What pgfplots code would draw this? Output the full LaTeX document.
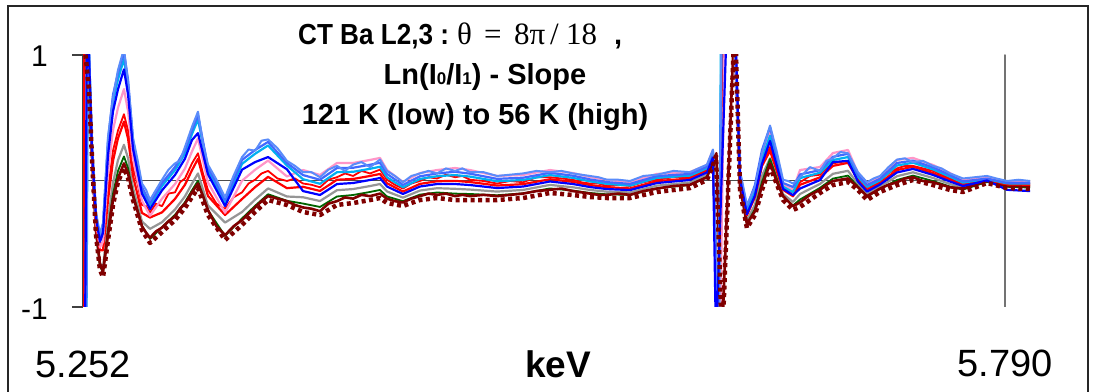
\documentclass[border=0pt]{standalone}
\usepackage{pgfplots}
\pgfplotsset{compat=1.18}
\usepackage{fontspec}
\setmainfont{Liberation Sans}
\newfontfamily\serifgreek{Liberation Serif}
\definecolor{cC}{RGB}{65,105,255}
\definecolor{cC2}{RGB}{90,140,250}
\definecolor{cS}{RGB}{0,176,240}
\definecolor{cP}{RGB}{255,150,200}
\definecolor{cB}{RGB}{0,0,255}
\definecolor{cR}{RGB}{255,0,0}
\definecolor{cG}{RGB}{150,150,150}
\definecolor{cDG}{RGB}{0,100,0}
\definecolor{cD}{RGB}{128,0,0}
\begin{document}
\begin{tikzpicture}
\useasboundingbox (0pt,0pt) rectangle (1095pt,391pt);
\fill[white] (0pt,0pt) rectangle (1095pt,391pt);
\draw[line width=1.5pt, black!85] (8pt,-5pt) rectangle (1088pt,385pt);
\begin{axis}[
  at={(83pt,84pt)}, anchor=south west,
  scale only axis, width=947pt, height=252pt,
  xmin=5.252, xmax=5.8046, ymin=-1, ymax=1,
  axis x line=none, axis y line=left,
  axis line style={-, line width=1.2pt, black!75},
  ytick={-1,1}, yticklabels={}, xtick=\empty,
  tick align=outside, major tick length=11pt,
  major tick style={line width=1.2pt, black!75},
  every axis plot/.append style={line join=round, line cap=round},
]
\addplot[black!70, line width=1pt] coordinates {(5.252,0) (5.8046,0)};
\addplot[black!55, line width=1.5pt] coordinates {(5.790,-1) (5.790,1)};
% gray
\addplot[cG, line width=2.2pt] coordinates {
(5.2523,-1.3)(5.2529,1.3)(5.2549,1.3)
(5.2555,0.786)(5.2573,0.183)(5.2596,-0.397)(5.2619,-0.654)(5.2637,-0.679)(5.2666,-0.309)(5.2695,-0.015)(5.2724,0.165)(5.2759,0.287)(5.2783,0.180)(5.2812,-0.056)(5.2864,-0.321)(5.2911,-0.38)(5.2981,-0.327)(5.3057,-0.226)(5.3115,-0.122)(5.3156,-0.021)(5.3191,0.060)(5.3249,-0.194)(5.3349,-0.33)(5.3448,-0.246)(5.3524,-0.148)(5.3600,-0.059)(5.3710,-0.123)
(5.3804,-0.129)(5.3903,-0.159)(5.4002,-0.073)(5.4096,-0.064)(5.4195,-0.040)(5.4253,-0.024)(5.4294,-0.083)(5.4387,-0.132)(5.4486,-0.076)(5.4586,-0.057)(5.4691,-0.062)(5.4778,-0.068)(5.4936,-0.084)(5.5088,-0.071)(5.5245,-0.031)(5.5379,-0.050)(5.5478,-0.071)(5.5578,-0.085)(5.5712,-0.091)(5.5869,-0.037)(5.6062,-0.012)(5.6161,0.050)(5.6196,0.169)
(5.6225,-1.3)(5.6254,1.3)(5.6318,1.3)
(5.6354,-0.024)(5.6394,-0.315)(5.6441,-0.187)(5.6482,0.040)(5.6529,0.18)(5.6605,-0.104)(5.6663,-0.166)(5.6704,-0.103)(5.6821,-0.023)(5.6896,0.057)(5.6984,0.081)(5.7042,-0.024)(5.7095,-0.104)(5.7171,-0.045)(5.7270,0.038)(5.7363,0.069)(5.7480,0.024)(5.7579,-0.024)(5.7655,-0.054)(5.7795,-0.002)(5.7912,-0.039)(5.8046,-0.044)};
% dark green
\addplot[cDG, line width=1.8pt] coordinates {
(5.2523,-1.3)(5.2529,1.3)(5.2549,1.3)
(5.2555,0.754)(5.2573,0.175)(5.2596,-0.413)(5.2619,-0.680)(5.2637,-0.721)(5.2666,-0.389)(5.2695,-0.103)(5.2724,0.079)(5.2759,0.195)(5.2783,0.102)(5.2812,-0.103)(5.2864,-0.355)(5.2911,-0.460)(5.2981,-0.366)(5.3057,-0.268)(5.3115,-0.168)(5.3156,-0.074)(5.3191,0.002)(5.3249,-0.232)(5.3349,-0.436)(5.3448,-0.297)(5.3524,-0.197)(5.3600,-0.105)(5.3710,-0.157)
(5.3804,-0.179)(5.3903,-0.206)(5.4002,-0.123)(5.4096,-0.111)(5.4195,-0.087)(5.4253,-0.071)(5.4294,-0.123)(5.4387,-0.160)(5.4486,-0.108)(5.4586,-0.091)(5.4691,-0.100)(5.4778,-0.103)(5.4936,-0.113)(5.5088,-0.098)(5.5245,-0.059)(5.5379,-0.076)(5.5478,-0.095)(5.5578,-0.106)(5.5712,-0.110)(5.5869,-0.058)(5.6062,-0.031)(5.6161,0.032)(5.6196,0.151)
(5.6225,-1.3)(5.6254,1.3)(5.6318,1.3)
(5.6354,-0.044)(5.6394,-0.340)(5.6441,-0.222)(5.6482,-0.008)(5.6529,0.175)(5.6605,-0.124)(5.6663,-0.194)(5.6704,-0.147)(5.6821,-0.054)(5.6896,0.019)(5.6984,0.043)(5.7042,-0.044)(5.7095,-0.124)(5.7171,-0.063)(5.7270,0.008)(5.7363,0.043)(5.7480,0.000)(5.7579,-0.044)(5.7655,-0.068)(5.7795,-0.008)(5.7912,-0.046)(5.8046,-0.052)};
% dark red solid
\addplot[cD, line width=2.6pt] coordinates {
(5.2527,1.3)(5.2535,0.95)
(5.2555,0.70)(5.2573,0.18)(5.2596,-0.40)(5.2619,-0.66)(5.2637,-0.72)(5.2666,-0.43)(5.2695,-0.15)(5.2724,0.02)(5.2759,0.14)(5.2783,0.06)(5.2812,-0.12)(5.2838,-0.24)(5.2864,-0.36)(5.2888,-0.41)(5.2911,-0.45)(5.2946,-0.40)(5.2981,-0.37)(5.3019,-0.32)(5.3057,-0.28)(5.3086,-0.22)(5.3115,-0.18)(5.3156,-0.09)(5.3191,-0.02)(5.3220,-0.12)(5.3249,-0.23)(5.3299,-0.36)(5.3349,-0.43)(5.3398,-0.36)(5.3448,-0.31)(5.3486,-0.26)(5.3524,-0.21)(5.3562,-0.16)(5.3600,-0.12)(5.3655,-0.14)(5.3710,-0.16)(5.3757,-0.19)
(5.3804,-0.21)(5.3853,-0.22)(5.3903,-0.24)(5.3952,-0.18)(5.4002,-0.16)(5.4049,-0.13)(5.4096,-0.14)(5.4145,-0.11)(5.4195,-0.12)(5.4253,-0.10)(5.4294,-0.14)(5.4340,-0.16)(5.4387,-0.17)(5.4436,-0.14)(5.4486,-0.12)(5.4536,-0.10)(5.4586,-0.11)(5.4638,-0.10)(5.4691,-0.12)(5.4734,-0.11)(5.4778,-0.12)(5.4857,-0.11)(5.4936,-0.12)(5.5012,-0.11)(5.5088,-0.10)(5.5166,-0.08)(5.5245,-0.07)(5.5312,-0.06)(5.5379,-0.08)(5.5428,-0.09)(5.5478,-0.10)(5.5528,-0.11)(5.5578,-0.11)(5.5645,-0.10)(5.5712,-0.11)(5.5790,-0.08)(5.5869,-0.06)(5.5965,-0.04)(5.6062,-0.03)(5.6111,0.00)(5.6161,0.03)(5.6196,0.15)
(5.6216,0.22)(5.6247,-1.3)(5.6322,1.3)
(5.6354,-0.05)(5.6394,-0.34)(5.6441,-0.24)(5.6482,-0.04)(5.6529,0.14)(5.6567,0.00)(5.6605,-0.12)(5.6634,-0.16)(5.6663,-0.20)(5.6704,-0.17)(5.6762,-0.11)(5.6821,-0.07)(5.6858,-0.03)(5.6896,0.00)(5.6940,0.01)(5.6984,0.02)(5.7042,-0.05)(5.7095,-0.12)(5.7133,-0.09)(5.7171,-0.06)(5.7220,-0.03)(5.7270,-0.01)(5.7316,0.02)(5.7363,0.03)(5.7421,0.00)(5.7480,-0.01)(5.7530,-0.03)(5.7579,-0.05)(5.7655,-0.06)(5.7725,-0.03)(5.7795,0.00)(5.7850,-0.02)(5.7912,-0.04)(5.8046,-0.04)};
% red
\addplot[cR, line width=2.2pt] coordinates {
(5.2520,-1.3)(5.2526,1.3)(5.2549,1.3)
(5.2555,0.849)(5.2573,0.199)(5.2596,-0.365)(5.2619,-0.55)(5.2637,-0.55)(5.2666,-0.151)(5.2695,0.159)(5.2724,0.338)(5.2759,0.471)(5.2783,0.335)(5.2812,0.039)(5.2864,-0.253)(5.2911,-0.29)(5.2981,-0.249)(5.3057,-0.142)(5.3115,-0.030)(5.3156,0.086)(5.3191,0.176)(5.3249,-0.118)(5.3349,-0.27)(5.3448,-0.143)(5.3524,-0.049)(5.3600,0.033)(5.3710,-0.057)
(5.3804,-0.046)(5.3903,-0.079)(5.4002,0.010)(5.4096,0.016)(5.4195,0.040)(5.4253,0.056)(5.4294,-0.018)(5.4387,-0.084)(5.4486,-0.023)(5.4586,-0.002)(5.4691,0.001)(5.4778,-0.008)(5.4936,-0.036)(5.5088,-0.025)(5.5245,0.014)(5.5379,-0.007)(5.5478,-0.032)(5.5578,-0.049)(5.5712,-0.059)(5.5869,-0.001)(5.6062,0.020)(5.6161,0.079)(5.6196,0.198)
(5.6225,-1.3)(5.6254,1.3)(5.6318,1.3)
(5.6354,0.009)(5.6394,-0.273)(5.6441,-0.127)(5.6482,0.119)(5.6529,0.24)(5.6605,-0.070)(5.6663,-0.121)(5.6704,-0.030)(5.6821,0.029)(5.6896,0.120)(5.6984,0.144)(5.7042,0.009)(5.7095,-0.070)(5.7171,-0.016)(5.7270,0.087)(5.7363,0.113)(5.7480,0.063)(5.7579,0.009)(5.7655,-0.030)(5.7795,0.008)(5.7912,-0.027)(5.8046,-0.030)};
% red 2
\addplot[cR, line width=1.8pt] coordinates {
(5.2521,-1.3)(5.2527,1.3)(5.2549,1.3)
(5.2555,0.90)(5.2573,0.24)(5.2596,-0.33)(5.2619,-0.50)(5.2637,-0.49)(5.2666,-0.08)(5.2695,0.24)(5.2724,0.40)(5.2759,0.53)(5.2783,0.40)(5.2812,0.10)(5.2838,-0.02)(5.2864,-0.19)(5.2888,-0.20)(5.2911,-0.25)(5.2946,-0.18)(5.2981,-0.20)(5.3019,-0.10)(5.3057,-0.09)(5.3086,-0.01)(5.3115,0.02)(5.3156,0.14)(5.3191,0.22)(5.3220,0.06)(5.3249,-0.07)(5.3299,-0.18)(5.3349,-0.22)(5.3398,-0.13)(5.3448,-0.09)(5.3486,-0.02)(5.3524,0.01)(5.3562,0.06)(5.3600,0.08)(5.3655,0.02)(5.3710,0.00)(5.3757,0.02)
(5.3804,-0.02)(5.3853,-0.03)(5.3903,-0.05)(5.3952,0.01)(5.4002,0.03)(5.4049,0.06)(5.4096,0.04)(5.4145,0.08)(5.4195,0.06)(5.4253,0.09)(5.4294,0.01)(5.4340,-0.03)(5.4387,-0.06)(5.4436,-0.02)(5.4486,0.00)(5.4536,0.03)(5.4586,0.02)(5.4638,0.05)(5.4691,0.03)(5.4734,0.04)(5.4778,0.01)(5.4857,0.00)(5.4936,-0.02)(5.5012,0.00)(5.5088,-0.01)(5.5166,0.03)(5.5245,0.03)(5.5312,0.02)(5.5379,0.01)(5.5428,-0.01)(5.5478,-0.02)(5.5528,-0.02)(5.5578,-0.04)(5.5645,-0.03)(5.5712,-0.04)(5.5790,-0.01)(5.5869,0.01)(5.5965,0.03)(5.6062,0.03)(5.6111,0.06)(5.6161,0.09)(5.6196,0.21)
(5.6227,-1.3)(5.6256,1.3)(5.6318,1.3)
(5.6354,0.03)(5.6394,-0.24)(5.6441,-0.10)(5.6482,0.14)(5.6529,0.27)(5.6567,0.10)(5.6605,-0.05)(5.6634,-0.07)(5.6663,-0.09)(5.6704,-0.01)(5.6762,0.04)(5.6821,0.05)(5.6858,0.10)(5.6896,0.14)(5.6940,0.15)(5.6984,0.16)(5.7042,0.03)(5.7095,-0.05)(5.7133,-0.03)(5.7171,0.00)(5.7220,0.06)(5.7270,0.10)(5.7316,0.12)(5.7363,0.12)(5.7421,0.10)(5.7480,0.08)(5.7530,0.05)(5.7579,0.02)(5.7655,-0.02)(5.7725,0.00)(5.7795,0.01)(5.7850,0.00)(5.7912,-0.02)(5.8046,-0.02)};
% pink
\addplot[cP, line width=2.2pt] coordinates {
(5.2535,-1.3)(5.2543,1.3)
(5.2555,0.938)(5.2573,0.221)(5.2596,-0.321)(5.2619,-0.528)(5.2637,-0.481)(5.2666,0.071)(5.2695,0.404)(5.2724,0.580)(5.2759,0.729)(5.2783,0.553)(5.2812,0.173)(5.2864,-0.157)(5.2911,-0.276)(5.2981,-0.140)(5.3057,-0.024)(5.3115,0.099)(5.3156,0.235)(5.3191,0.338)(5.3249,-0.011)(5.3349,-0.252)(5.3448,0.002)(5.3524,0.089)(5.3600,0.162)(5.3710,0.036)
(5.3804,0.087)(5.3903,0.048)(5.4002,0.143)(5.4096,0.143)(5.4195,0.167)(5.4253,0.183)(5.4294,0.087)(5.4387,-0.008)(5.4486,0.063)(5.4586,0.087)(5.4691,0.103)(5.4778,0.087)(5.4936,0.040)(5.5088,0.048)(5.5245,0.087)(5.5379,0.063)(5.5478,0.032)(5.5578,0.008)(5.5712,-0.008)(5.5869,0.056)(5.6062,0.071)(5.6161,0.127)(5.6196,0.246)
(5.6237,-1.3)(5.6266,1.3)(5.6312,1.3)
(5.6354,0.047)(5.6394,-0.226)(5.6441,-0.061)(5.6482,0.208)(5.6529,0.391)(5.6605,-0.032)(5.6663,-0.070)(5.6704,0.087)(5.6821,0.111)(5.6896,0.222)(5.6984,0.246)(5.7042,0.063)(5.7095,-0.016)(5.7171,0.032)(5.7270,0.167)(5.7363,0.183)(5.7480,0.127)(5.7579,0.063)(5.7655,0.008)(5.7795,0.024)(5.7912,-0.008)(5.8046,-0.008)};
% sky blue
\addplot[cS, line width=2.2pt] coordinates {
(5.2540,-1.3)(5.2549,1.3)
(5.2555,1.021)(5.2573,0.241)(5.2596,-0.280)(5.2619,-0.460)(5.2637,-0.374)(5.2666,0.277)(5.2695,0.631)(5.2724,0.805)(5.2759,0.969)(5.2783,0.755)(5.2812,0.296)(5.2864,-0.068)(5.2911,-0.194)(5.2981,-0.039)(5.3057,0.086)(5.3115,0.218)(5.3156,0.373)(5.3191,0.489)(5.3249,0.088)(5.3349,-0.170)(5.3448,0.136)(5.3524,0.216)(5.3600,0.282)(5.3710,0.123)
(5.3804,0.014)(5.3903,-0.022)(5.4002,0.070)(5.4096,0.073)(5.4195,0.097)(5.4253,0.113)(5.4294,0.029)(5.4387,-0.050)(5.4486,0.016)(5.4586,0.038)(5.4691,0.047)(5.4778,0.035)(5.4936,-0.002)(5.5088,0.008)(5.5245,0.047)(5.5379,0.025)(5.5478,-0.003)(5.5578,-0.023)(5.5712,-0.036)(5.5869,0.025)(5.6062,0.043)(5.6161,0.101)(5.6196,0.220)
(5.6231,-1.3)(5.6243,1.3)(5.6318,1.3)
(5.6354,0.034)(5.6394,-0.243)(5.6441,-0.084)(5.6482,0.176)(5.6529,0.359)(5.6605,-0.046)(5.6663,-0.088)(5.6704,0.023)(5.6821,0.066)(5.6896,0.166)(5.6984,0.190)(5.7042,0.034)(5.7095,-0.046)(5.7171,0.006)(5.7270,0.123)(5.7363,0.145)(5.7480,0.092)(5.7579,0.034)(5.7655,-0.013)(5.7795,0.015)(5.7912,-0.019)(5.8046,-0.020)};
% cornflower
\addplot[cC, line width=2.2pt] coordinates {
(5.2537,-1.3)(5.2546,1.3)
(5.2555,1.040)(5.2573,0.246)(5.2596,-0.270)(5.2619,-0.444)(5.2637,-0.349)(5.2666,0.325)(5.2695,0.683)(5.2724,0.857)(5.2759,1.024)(5.2783,0.802)(5.2812,0.325)(5.2864,-0.048)(5.2911,-0.175)(5.2981,-0.016)(5.3057,0.111)(5.3115,0.246)(5.3156,0.405)(5.3191,0.524)(5.3249,0.111)(5.3349,-0.151)(5.3448,0.167)(5.3524,0.246)(5.3600,0.310)(5.3710,0.143)
(5.3804,0.047)(5.3903,0.010)(5.4002,0.103)(5.4096,0.105)(5.4195,0.129)(5.4253,0.145)(5.4294,0.056)(5.4387,-0.031)(5.4486,0.037)(5.4586,0.060)(5.4691,0.073)(5.4778,0.058)(5.4936,0.017)(5.5088,0.026)(5.5245,0.065)(5.5379,0.042)(5.5478,0.013)(5.5578,-0.009)(5.5712,-0.023)(5.5869,0.039)(5.6062,0.056)(5.6161,0.113)(5.6196,0.232)
(5.6225,-1.3)(5.6249,1.3)(5.6318,1.3)
(5.6354,0.063)(5.6394,-0.206)(5.6441,-0.032)(5.6482,0.246)(5.6529,0.429)(5.6605,-0.016)(5.6663,-0.048)(5.6704,0.052)(5.6821,0.086)(5.6896,0.192)(5.6984,0.216)(5.7042,0.047)(5.7095,-0.032)(5.7171,0.018)(5.7270,0.143)(5.7363,0.162)(5.7480,0.108)(5.7579,0.047)(5.7655,-0.003)(5.7795,0.019)(5.7912,-0.014)(5.8046,-0.015)};
% cornflower 2
\addplot[cC2, line width=2pt] coordinates {
(5.2539,-1.3)(5.2548,1.3)
(5.2555,1.06)(5.2573,0.30)(5.2596,-0.25)(5.2619,-0.42)(5.2637,-0.33)(5.2666,0.35)(5.2695,0.66)(5.2724,0.88)(5.2759,1.05)(5.2783,0.78)(5.2812,0.34)(5.2838,0.17)(5.2864,-0.02)(5.2888,-0.07)(5.2911,-0.15)(5.2946,-0.07)(5.2981,0.01)(5.3019,0.09)(5.3057,0.14)(5.3086,0.16)(5.3115,0.27)(5.3156,0.43)(5.3191,0.55)(5.3220,0.30)(5.3249,0.13)(5.3299,0.01)(5.3349,-0.13)(5.3398,0.04)(5.3448,0.19)(5.3486,0.25)(5.3524,0.24)(5.3562,0.32)(5.3600,0.33)(5.3655,0.26)(5.3710,0.16)(5.3757,0.12)
(5.3804,0.07)(5.3853,0.07)(5.3903,0.03)(5.3952,0.09)(5.4002,0.12)(5.4049,0.08)(5.4096,0.13)(5.4145,0.15)(5.4195,0.11)(5.4253,0.17)(5.4294,0.08)(5.4340,0.04)(5.4387,-0.01)(5.4436,0.04)(5.4486,0.06)(5.4536,0.08)(5.4586,0.06)(5.4638,0.10)(5.4691,0.08)(5.4734,0.10)(5.4778,0.07)(5.4857,0.07)(5.4936,0.04)(5.5012,0.05)(5.5088,0.06)(5.5166,0.08)(5.5245,0.07)(5.5312,0.08)(5.5379,0.06)(5.5428,0.05)(5.5478,0.04)(5.5528,0.03)(5.5578,0.01)(5.5645,0.01)(5.5712,0.00)(5.5790,0.04)(5.5869,0.05)(5.5965,0.08)(5.6062,0.07)(5.6111,0.10)(5.6161,0.13)(5.6196,0.25)
(5.6228,-1.3)(5.6246,1.3)(5.6315,1.3)
(5.6354,0.08)(5.6394,-0.19)(5.6441,-0.05)(5.6482,0.22)(5.6529,0.44)(5.6567,0.24)(5.6605,0.01)(5.6634,0.00)(5.6663,-0.02)(5.6704,0.03)(5.6762,0.11)(5.6821,0.08)(5.6858,0.16)(5.6896,0.18)(5.6940,0.23)(5.6984,0.22)(5.7042,0.07)(5.7095,-0.01)(5.7133,0.02)(5.7171,0.04)(5.7220,0.11)(5.7270,0.17)(5.7316,0.18)(5.7363,0.15)(5.7421,0.16)(5.7480,0.12)(5.7530,0.10)(5.7579,0.06)(5.7655,0.02)(5.7725,0.03)(5.7795,0.04)(5.7850,0.02)(5.7912,0.00)(5.7980,0.01)(5.8046,0.00)};
% blue
\addplot[cB, line width=2.2pt] coordinates {
(5.2532,-1.3)(5.2543,1.3)(5.2549,1.3)
(5.2555,0.992)(5.2573,0.234)(5.2596,-0.294)(5.2619,-0.483)(5.2637,-0.411)(5.2666,0.206)(5.2695,0.552)(5.2724,0.727)(5.2759,0.886)(5.2783,0.685)(5.2812,0.254)(5.2864,-0.099)(5.2911,-0.223)(5.2981,-0.074)(5.3057,0.048)(5.3115,0.177)(5.3156,0.325)(5.3191,0.38)(5.3249,0.054)(5.3349,-0.199)(5.3448,0.090)(5.3524,0.15)(5.3600,0.19)(5.3710,0.093)
(5.3804,-0.080)(5.3903,-0.111)(5.4002,-0.024)(5.4096,-0.016)(5.4195,0.008)(5.4253,0.024)(5.4294,-0.044)(5.4387,-0.103)(5.4486,-0.044)(5.4586,-0.024)(5.4691,-0.024)(5.4778,-0.032)(5.4936,-0.056)(5.5088,-0.044)(5.5245,-0.004)(5.5379,-0.024)(5.5478,-0.048)(5.5578,-0.064)(5.5712,-0.072)(5.5869,-0.016)(5.6062,0.008)(5.6161,0.068)(5.6196,0.187)
(5.6214,-1.3)(5.6278,1.3)(5.6324,1.3)
(5.6354,0.016)(5.6394,-0.264)(5.6441,-0.115)(5.6482,0.135)(5.6529,0.318)(5.6605,-0.063)(5.6663,-0.112)(5.6704,-0.060)(5.6821,0.008)(5.6896,0.15)(5.6984,0.16)(5.7042,-0.004)(5.7095,-0.084)(5.7171,-0.028)(5.7270,0.068)(5.7363,0.096)(5.7480,0.048)(5.7579,-0.004)(5.7655,-0.040)(5.7795,0.004)(5.7912,-0.070)(5.8046,-0.080)};
% dark red dashed
\addplot[cD, line width=4.5pt, line cap=butt, dash pattern=on 4pt off 3.5pt] coordinates {
(5.2526,1.3)(5.2532,1.04)
(5.2555,0.722)(5.2573,0.167)(5.2596,-0.429)(5.2619,-0.706)(5.2637,-0.762)(5.2666,-0.468)(5.2695,-0.190)(5.2724,-0.008)(5.2759,0.103)(5.2783,0.024)(5.2812,-0.151)(5.2864,-0.389)(5.2911,-0.492)(5.2981,-0.405)(5.3057,-0.310)(5.3115,-0.214)(5.3156,-0.127)(5.3191,-0.056)(5.3249,-0.270)(5.3349,-0.468)(5.3448,-0.349)(5.3524,-0.246)(5.3600,-0.151)(5.3710,-0.190)
(5.3804,-0.246)(5.3903,-0.270)(5.4002,-0.190)(5.4096,-0.175)(5.4195,-0.151)(5.4253,-0.135)(5.4294,-0.175)(5.4387,-0.198)(5.4486,-0.151)(5.4586,-0.135)(5.4691,-0.151)(5.4778,-0.151)(5.4936,-0.151)(5.5088,-0.135)(5.5245,-0.095)(5.5379,-0.111)(5.5478,-0.127)(5.5578,-0.135)(5.5712,-0.135)(5.5869,-0.087)(5.6062,-0.056)(5.6161,0.008)(5.6196,0.127)
(5.6214,0.20)(5.6249,-1.3)(5.6324,1.3)
(5.6354,-0.071)(5.6394,-0.373)(5.6441,-0.270)(5.6482,-0.071)(5.6529,0.111)(5.6605,-0.151)(5.6663,-0.230)(5.6704,-0.206)(5.6821,-0.095)(5.6896,-0.032)(5.6984,-0.008)(5.7042,-0.071)(5.7095,-0.151)(5.7171,-0.087)(5.7270,-0.032)(5.7363,0.008)(5.7480,-0.032)(5.7579,-0.071)(5.7655,-0.087)(5.7795,-0.016)(5.7912,-0.056)(5.8046,-0.063)};
\end{axis}
% y tick labels
\node[anchor=base east, inner sep=0] at (48pt,324pt) {\fontsize{30}{36}\selectfont 1};
\node[anchor=base east, inner sep=0] at (48pt,71pt) {\fontsize{30}{36}\selectfont -1};
% x labels
\node[anchor=base, inner sep=0] at (83pt,14pt) {\fontsize{38}{44}\selectfont 5.252};
\node[anchor=base, inner sep=0] at (558pt,14pt) {\fontsize{37}{44}\selectfont\bfseries keV};
\node[anchor=base, inner sep=0] at (1005pt,15pt) {\fontsize{38}{44}\selectfont 5.790};
% title
\node[anchor=base west, inner sep=0] at (298pt,346pt) {\fontsize{29}{35}\selectfont
  \makebox[159pt][l]{\scalebox{0.9}[1]{\bfseries CT Ba L2,3 :}}%
  {\serifgreek\fontsize{31}{35}\selectfont\makebox[27pt][l]{θ}\makebox[30pt][l]{=}\makebox[36pt][l]{8π}\makebox[16pt][l]{/}\makebox[48pt][l]{18}}%
  {\bfseries ,}};
\node[anchor=base, inner sep=0] at (485pt,306pt) {\fontsize{29}{35}\selectfont\bfseries Ln(I{\fontsize{17}{17}\selectfont 0}/I{\fontsize{17}{17}\selectfont 1}) - Slope};
\node[anchor=base, inner sep=0] at (475pt,266pt) {\fontsize{29}{35}\selectfont\bfseries 121 K (low) to 56 K (high)};
\end{tikzpicture}
\end{document}
